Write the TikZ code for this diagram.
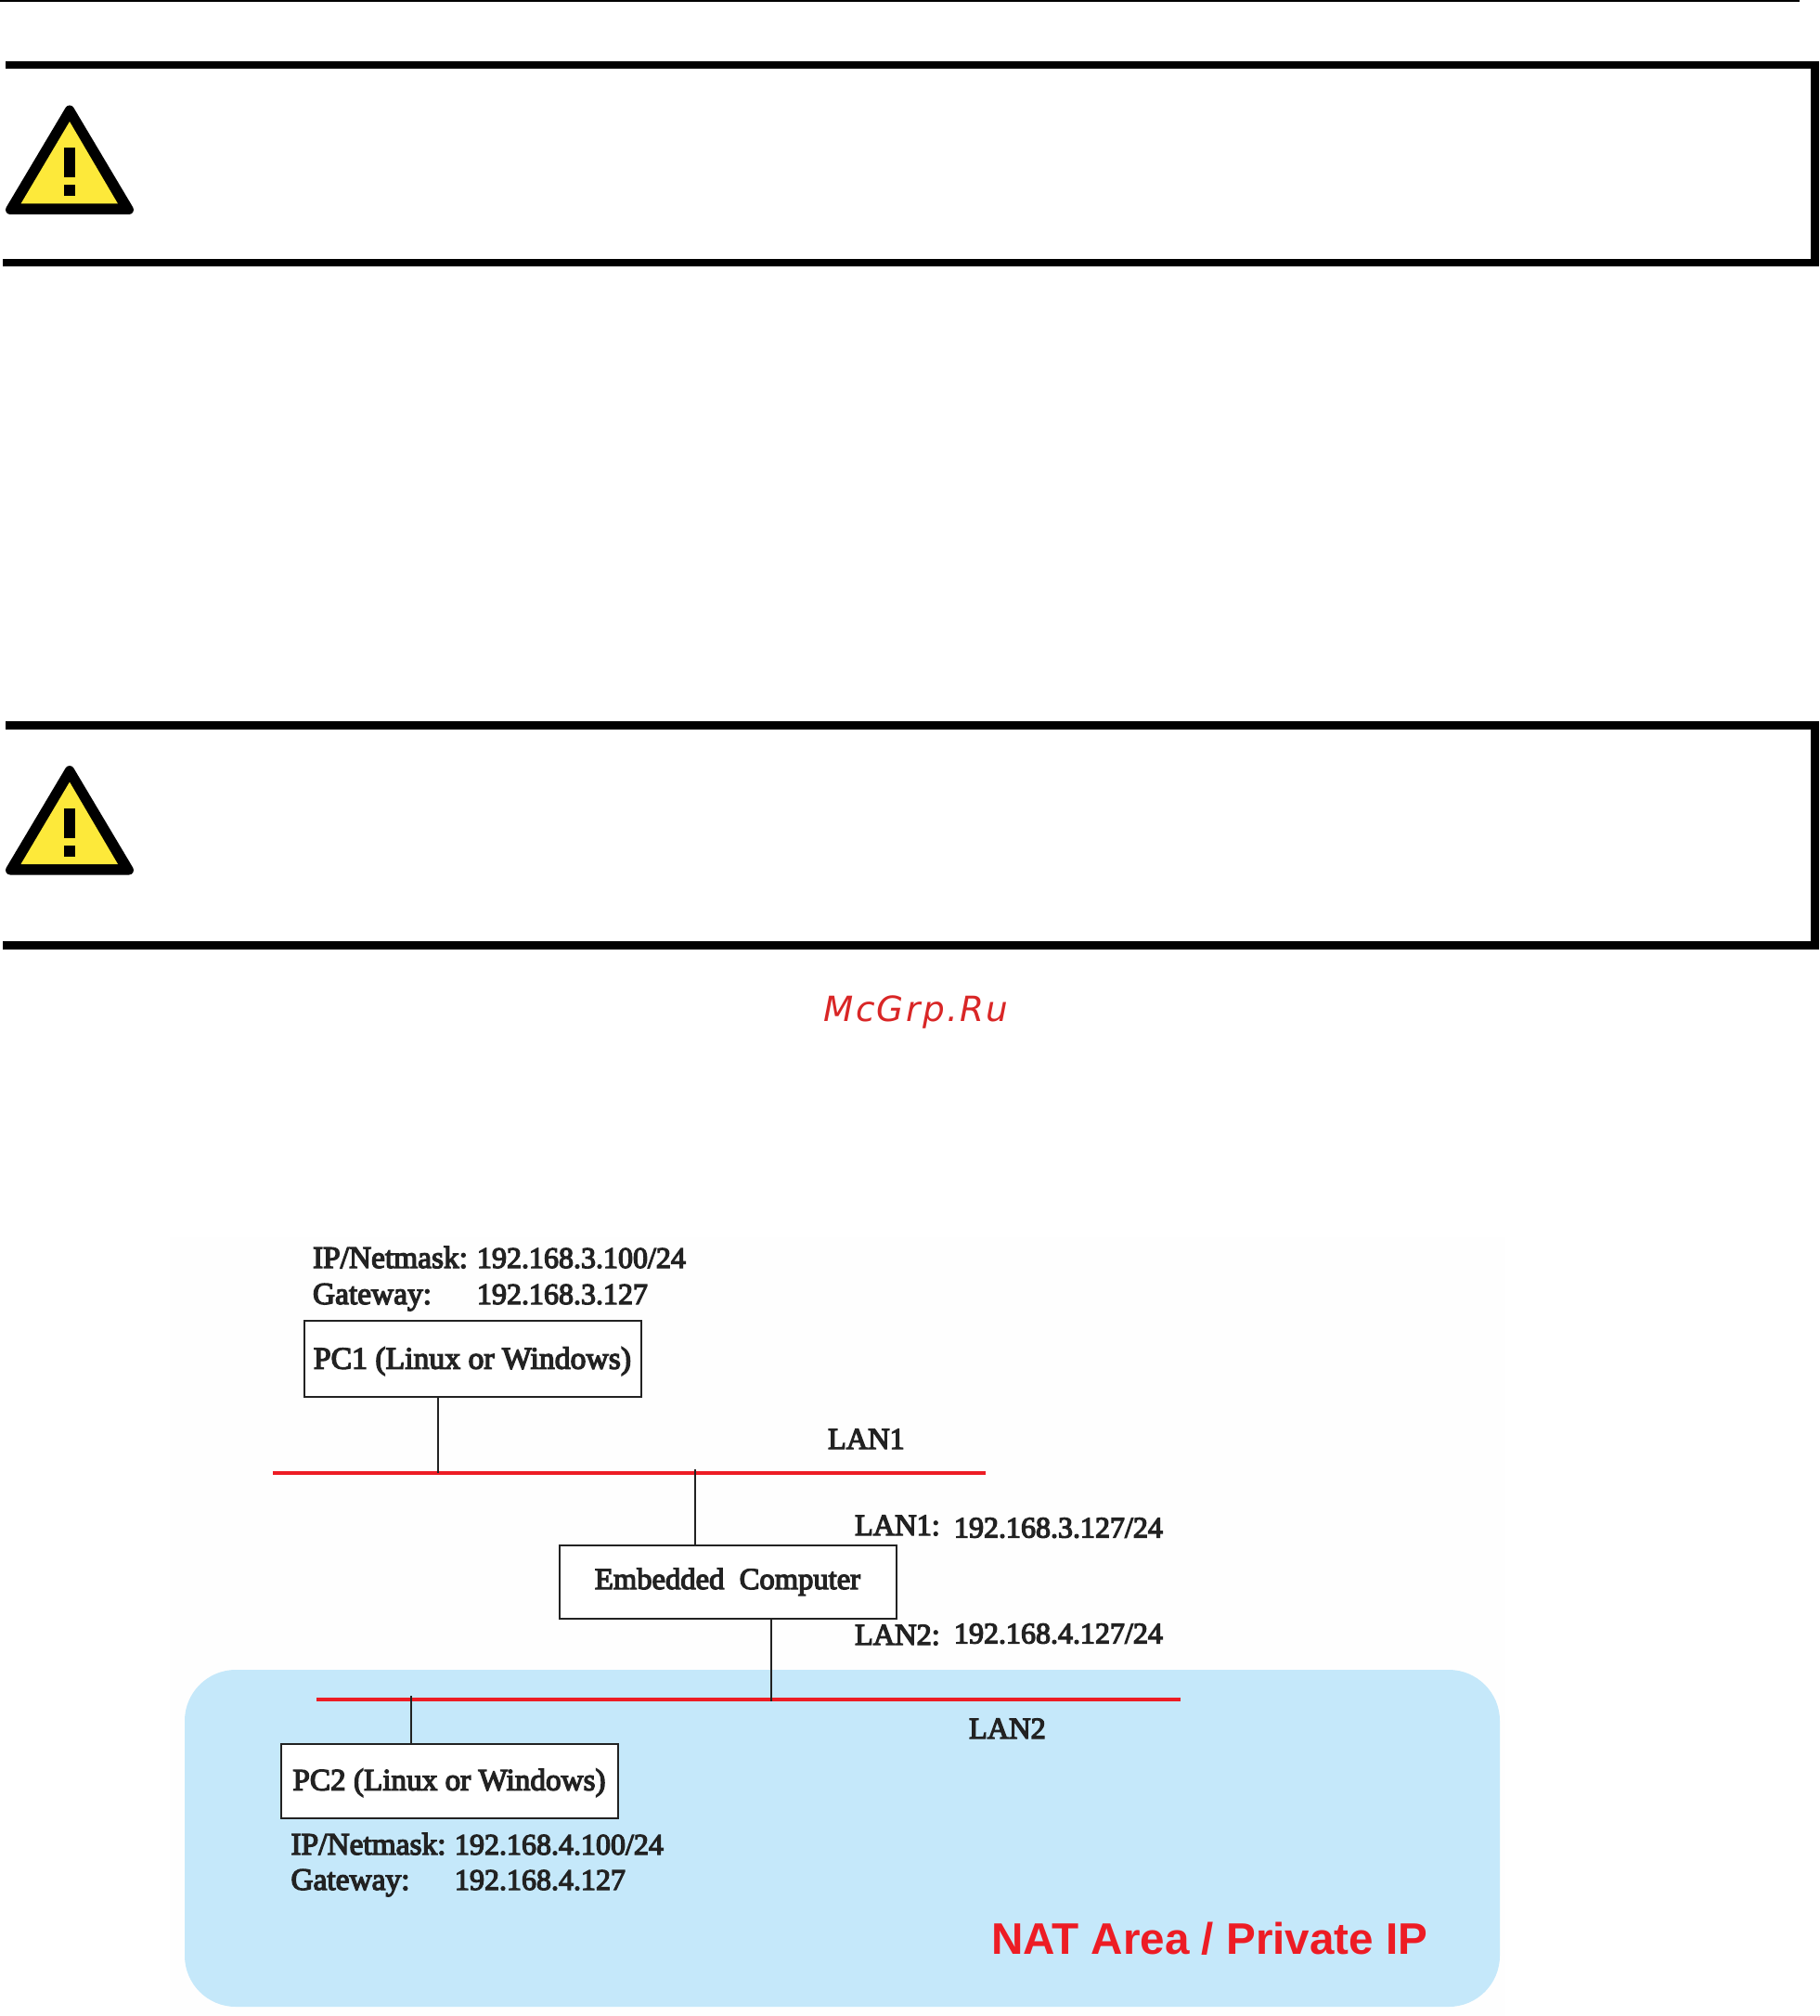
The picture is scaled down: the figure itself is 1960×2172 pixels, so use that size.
\documentclass[tikz,border=0pt]{standalone}
\usepackage{fontspec}
\setmainfont{Liberation Serif}[FakeBold=4]
\newfontfamily\natfont{Liberation Sans}[Scale=1]
\newfontfamily\wmfont{DejaVu Sans}[LetterSpace=6.3]
\definecolor{areablue}{HTML}{C5E8FA}
\definecolor{lanred}{HTML}{ED1C24}
\definecolor{warnyellow}{HTML}{FDE93A}
\definecolor{ink}{HTML}{222222}
\definecolor{wmred}{HTML}{D92626}
\definecolor{paper}{HTML}{FEFEFE}
\tikzset{
  x=0.5pt,y=-0.5pt,
  bar/.style={fill=black,draw=none},
  lanline/.style={draw=lanred,line width=2.4pt},
  link/.style={draw=ink,line width=1pt},
  devbox/.style={draw=ink,line width=1pt,fill=white,inner sep=0pt,align=center,
     font=\fontsize{16.85}{20}\selectfont,text=ink},
  lbl/.style={anchor=base west,inner sep=0pt,outer sep=0pt,text=ink,font=\fontsize{16.7}{20}\selectfont},
  num/.style={anchor=base west,inner sep=0pt,outer sep=0pt,text=ink,font=\fontsize{16}{20}\selectfont},
}
\newcommand{\warnsign}[1]{%
  \begin{scope}[yshift=-#1*0.5pt]
    \fill[black,draw=black,line width=5pt,line join=round] (75,118.5) -- (139,226) -- (11,226) -- cycle;
    \fill[warnyellow] (75,131) -- (127,219.5) -- (22.5,219.5) -- cycle;
    \fill[black] (69,159) rectangle (81,191);
    \fill[black] (69,199) rectangle (81,211);
  \end{scope}}
\begin{document}
\begin{tikzpicture}
\useasboundingbox (0,0) rectangle (1960,2172);
\fill[white] (0,0) rectangle (1960,2172);
% top rule
\fill[bar] (0,0) rectangle (1939,2);
% first notice frame
\fill[bar] (6,66) rectangle (1960,74);
\fill[bar] (3,279) rectangle (1960,287);
\fill[bar] (1951,66) rectangle (1960,287);
\warnsign{0}
% second notice frame
\fill[bar] (6,777) rectangle (1960,786);
\fill[bar] (3,1014) rectangle (1960,1023);
\fill[bar] (1951,777) rectangle (1960,1023);
\warnsign{711.5}
% watermark
\node[anchor=base west,inner sep=0pt,text=wmred,font=\wmfont\itshape\fontsize{18.7}{22}\selectfont] (wm) at (887,1100.5) {McGrp.Ru};
% figure
\fill[paper] (183,1333) rectangle (1622,2172);
\fill[areablue,rounded corners=27.5pt] (199,1799) rectangle (1616,2162);
% LAN rails
\coordinate (lan1a) at (294,1587);
\coordinate (lan1b) at (1062,1587);
\coordinate (lan2a) at (341,1831);
\coordinate (lan2b) at (1272,1831);
\coordinate (tapA) at (472.4,1587);
\coordinate (tapB) at (749,1583);
\coordinate (tapC) at (830.5,1833);
\coordinate (tapD) at (442.5,1827);
\draw[lanline] (lan1a) -- (lan1b);
\draw[lanline] (lan2a) -- (lan2b);
% devices
\node[devbox,minimum width=181.5pt,minimum height=41pt,text height=11pt,text depth=0pt] (pc1) at (509,1463.7) {PC1 (Linux or Windows)};
\node[devbox,minimum width=181.5pt,minimum height=39.5pt,text height=7.5pt,text depth=0pt,font=\fontsize{16.3}{20}\selectfont] (emb) at (784,1704.5) {Embedded\ \ Computer};
\node[devbox,minimum width=181.5pt,minimum height=40pt,text height=10pt,text depth=0pt,font=\fontsize{16.6}{20}\selectfont] (pc2) at (484,1918.7) {PC2 (Linux or Windows)};
% connectors
\draw[link] (pc1.south -| tapA) -- (tapA);
\draw[link] (emb.north -| tapB) -- (tapB);
\draw[link] (emb.south -| tapC) -- (tapC);
\draw[link] (pc2.north -| tapD) -- (tapD);
% labels
\node[lbl] (ip1) at (337,1366) {IP/Netmask:};
\node[num] (ip1v) at (514,1366) {192.168.3.100/24};
\node[lbl] (gw1) at (337,1405) {Gateway:};
\node[num] (gw1v) at (514,1405) {192.168.3.127};
\node[lbl,font=\fontsize{16.2}{20}\selectfont] (lan1) at (892,1561) {LAN1};
\node[lbl,font=\fontsize{16.2}{20}\selectfont] (e1) at (921,1654) {LAN1:};
\node[num] (e1v) at (1028,1656.5) {192.168.3.127/24};
\node[lbl,font=\fontsize{16.2}{20}\selectfont] (e2) at (921,1772) {LAN2:};
\node[num] (e2v) at (1028,1770.5) {192.168.4.127/24};
\node[lbl,font=\fontsize{16.2}{20}\selectfont] (lan2) at (1044,1873) {LAN2};
\node[lbl] (ip2) at (313.5,1998) {IP/Netmask:};
\node[num] (ip2v) at (490,1998) {192.168.4.100/24};
\node[lbl] (gw2) at (313.5,2036) {Gateway:};
\node[num] (gw2v) at (490,2036) {192.168.4.127};
\node[anchor=base west,inner sep=0pt,text=lanred,font=\natfont\bfseries\fontsize{23.8}{28}\selectfont] (nat) at (1068,2105.5) {NAT Area / Private IP};
\end{tikzpicture}
\end{document}
